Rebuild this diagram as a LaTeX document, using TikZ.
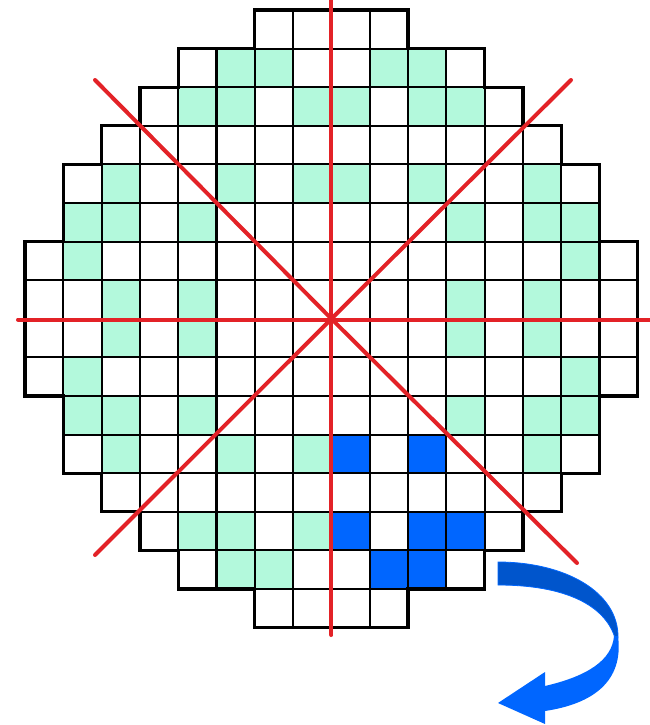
\documentclass[tikz,border=0pt]{standalone}
\definecolor{mint}{HTML}{B3F9DC}
\definecolor{cellblue}{HTML}{0066FF}
\definecolor{darkblue}{HTML}{0055CC}
\definecolor{axisred}{HTML}{E32227}
\begin{document}
\begin{tikzpicture}[x=1pt,y=-1pt,
  gridline/.style={line width=2.1pt},
  rim/.style={line width=3.3pt, line join=miter},
  axis/.style={draw=axisred, line width=4pt, line cap=round}]
\useasboundingbox (0,0) rectangle (650,725);
\begin{scope}[xshift=25pt, yshift=-10pt, x=38.3pt, y=-38.6pt]
  % green cells
  \foreach \r/\cs in {1/{5,6,9,10}, 2/{4,5,7,8,10,11}, 4/{2,5,7,8,10,13},
                      5/{1,2,4,11,13,14}, 6/{1,14}, 7/{2,4,11,13}, 8/{2,4,11,13},
                      9/{1,14}, 10/{1,2,4,11,13,14}, 11/{2,5,7,13}, 13/{4,5,7}, 14/{5,6}}
    \foreach \c in \cs \fill[mint] (\c,\r) rectangle ++(1,1);
  % blue cells
  \foreach \r/\cs in {11/{8,10}, 13/{8,10,11}, 14/{9,10}}
    \foreach \c in \cs \fill[cellblue] (\c,\r) rectangle ++(1,1);
  % grid
  \foreach \r/\a/\b in {0/6/9, 1/4/11, 2/3/12, 3/2/13, 4/1/14, 5/1/14, 6/0/15, 7/0/15,
                        8/0/15, 9/0/15, 10/1/14, 11/1/14, 12/2/13, 13/3/12, 14/4/11, 15/6/9}
    \foreach \c in {\a,...,\b} \draw[gridline] (\c,\r) rectangle ++(1,1);
  % outer rim
  \draw[rim] (6,0) -- (10,0) -- (10,1) -- (12,1) -- (12,2) -- (13,2) -- (13,3) -- (14,3)
    -- (14,4) -- (15,4) -- (15,6) -- (16,6) -- (16,10) -- (15,10) -- (15,12) -- (14,12)
    -- (14,13) -- (13,13) -- (13,14) -- (12,14) -- (12,15) -- (10,15) -- (10,16) -- (6,16)
    -- (6,15) -- (4,15) -- (4,14) -- (3,14) -- (3,13) -- (2,13) -- (2,12) -- (1,12)
    -- (1,10) -- (0,10) -- (0,6) -- (1,6) -- (1,4) -- (2,4) -- (2,3) -- (3,3) -- (3,2)
    -- (4,2) -- (4,1) -- (6,1) -- cycle;
\end{scope}
% red symmetry lines
\coordinate (ctr) at (331.4,318.8);
\coordinate (vtop) at (331.4,-2);
\coordinate (vbot) at (331.4,635);
\coordinate (hl) at (18,319.5);
\coordinate (hr) at (652,319.5);
\coordinate (ul) at (95,80);
\coordinate (lr) at (577,563);
\coordinate (ur) at (571,80);
\coordinate (ll) at (95,555);
\draw[axis] (vtop) -- (vbot);
\draw[axis] (hl) -- (hr);
\draw[axis] (ul) -- (ctr) -- (lr);
\draw[axis] (ur) -- (ctr) -- (ll);
% curved blue arrow
\fill[darkblue, draw=cellblue, line width=0.8pt]
  (498,562) .. controls (565,562) and (619,592) .. (618,638)
  -- (615,638) .. controls (605,605) and (565,585) .. (498,585) -- cycle;
\fill[cellblue]
  (618,636) .. controls (624,682) and (592,704) .. (545,711)
  -- (545,724) -- (498,703) -- (545,672) -- (545,686)
  .. controls (588,676) and (612,660) .. (614,636) -- cycle;
\end{tikzpicture}
\end{document}
